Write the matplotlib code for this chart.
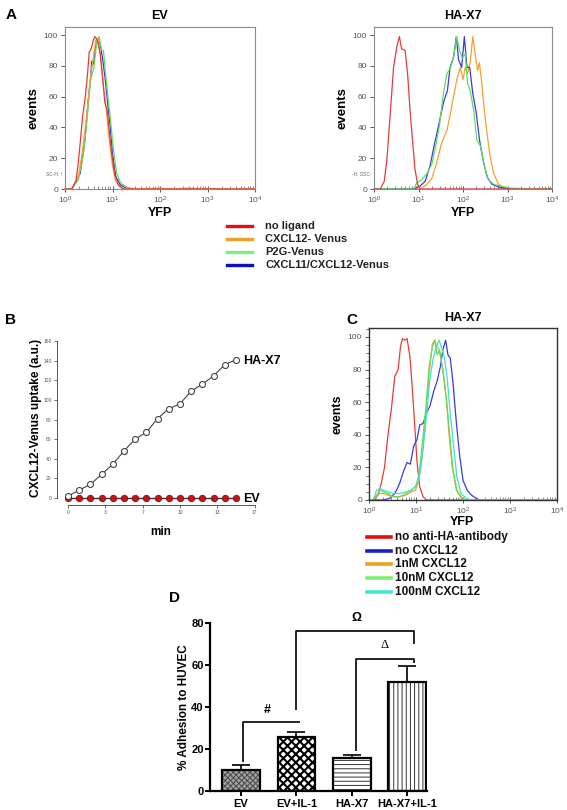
import matplotlib
matplotlib.use('Agg')
import matplotlib.pyplot as plt
from matplotlib.ticker import LogLocator, NullFormatter, FixedLocator, MultipleLocator
import numpy as np

plt.rcParams['font.family'] = ['Liberation Sans', 'DejaVu Sans']
plt.rcParams['mathtext.fontset'] = 'custom'
plt.rcParams['mathtext.rm'] = 'Liberation Sans'
plt.rcParams['mathtext.it'] = 'Liberation Sans:italic'
plt.rcParams['mathtext.bf'] = 'Liberation Sans:bold'
plt.rcParams['hatch.linewidth'] = 0.7

# ---------------- data ----------------
# Panel A, EV (x = log10 YFP, y = events)
a_ev_red_x = [0, 0.14, 0.23, 0.28, 0.32, 0.37, 0.42, 0.47, 0.51, 0.55, 0.60, 0.63, 0.68, 0.74, 0.79, 0.84, 0.89, 0.95, 1.00, 1.05, 1.12, 1.23, 4.0]
a_ev_red_y = [0, 0, 5, 17, 30, 47, 58, 73, 89, 91, 97, 99, 97, 88, 73, 56, 51, 32, 19, 9, 3, 0, 0]
a_ev_blue_x = [0, 0.14, 0.32, 0.42, 0.49, 0.54, 0.56, 0.60, 0.63, 0.68, 0.74, 0.79, 0.84, 0.89, 0.95, 1.00, 1.07, 1.16, 1.26, 1.44, 4.0]
a_ev_blue_y = [0, 0, 10, 32, 58, 72, 83, 81, 90, 97, 94, 85, 73, 58, 41, 23, 8, 3, 1, 0, 0]
a_ev_green_x = [0, 0.14, 0.28, 0.39, 0.47, 0.54, 0.61, 0.67, 0.72, 0.77, 0.81, 0.86, 0.91, 0.97, 1.03, 1.09, 1.17, 1.30, 1.50, 2.0, 2.3, 2.6, 3.0, 4.0]
a_ev_green_y = [0, 0, 6, 23, 47, 71, 79, 96, 99, 90, 90, 73, 58, 41, 23, 10, 4, 1, 0, 0.5, 0, 0.6, 0, 0]
a_ev_orange_x = [0, 0.14, 0.28, 0.37, 0.46, 0.53, 0.60, 0.65, 0.70, 0.75, 0.81, 0.86, 0.93, 1.00, 1.07, 1.16, 1.26, 4.0]
a_ev_orange_y = [0, 0, 8, 25, 49, 71, 86, 97, 98, 86, 66, 54, 32, 15, 5, 1, 0, 0]

# Panel A, HA-X7
a_x7_red_x = [0, 0.14, 0.23, 0.29, 0.36, 0.44, 0.51, 0.57, 0.62, 0.70, 0.76, 0.81, 0.87, 0.92, 0.98, 1.04, 4.0]
a_x7_red_y = [0, 0, 5, 19, 47, 79, 92, 99, 91, 90, 73, 51, 30, 13, 3, 0, 0]
a_x7_blue_x = [0, 0.89, 1.04, 1.15, 1.26, 1.35, 1.45, 1.56, 1.65, 1.71, 1.79, 1.85, 1.90, 1.97, 2.03, 2.09, 2.15, 2.22, 2.30, 2.37, 2.45, 2.54, 2.65, 2.84, 3.1, 4.0]
a_x7_blue_y = [0, 0, 2, 5, 15, 28, 41, 56, 64, 79, 86, 99, 84, 79, 99, 79, 79, 62, 49, 32, 19, 8, 3, 1, 0, 0]
a_x7_green_x = [0, 0.89, 0.96, 1.07, 1.19, 1.30, 1.40, 1.47, 1.56, 1.64, 1.71, 1.79, 1.86, 1.92, 1.99, 2.05, 2.10, 2.16, 2.24, 2.31, 2.39, 2.48, 2.57, 2.69, 2.84, 3.06, 3.44, 4.0]
a_x7_green_y = [0, 0, 4, 6, 10, 16, 30, 41, 62, 75, 78, 86, 99, 90, 85, 88, 69, 64, 51, 32, 28, 15, 6, 3, 2, 0.5, 0.3, 0]
a_x7_orange_x = [0, 1.04, 1.19, 1.30, 1.41, 1.52, 1.64, 1.73, 1.80, 1.86, 1.94, 2.00, 2.05, 2.10, 2.16, 2.22, 2.27, 2.33, 2.37, 2.42, 2.48, 2.54, 2.61, 2.69, 2.80, 2.99, 4.0]
a_x7_orange_y = [0, 0, 3, 7, 17, 30, 38, 51, 62, 71, 79, 71, 79, 75, 82, 99, 88, 77, 82, 69, 51, 36, 21, 10, 3, 0, 0]

a_legend = ['no ligand', 'CXCL12- Venus', 'P2G-Venus', 'CXCL11/CXCL12-Venus']

# Panel B
b_min = [0, 1, 2, 3, 4, 5, 6, 7, 8, 9, 10, 11, 12, 13, 14, 15]
b_hax7 = [2, 8, 14, 24, 34.5, 48, 60, 67, 81, 91, 96, 109, 116, 124.5, 136, 141]
b_ev = [0, 0, 0, 0, 0, 0, 0, 0, 0, 0, 0, 0, 0, 0, 0, 0]
b_xticks = [0, 10/3, 20/3, 10, 40/3, 50/3]
b_xticklabels = ['0', '3', '7', '10', '13', '17']

# Panel C
c_red_x = [0, 0.12, 0.19, 0.26, 0.33, 0.40, 0.48, 0.55, 0.62, 0.67, 0.71, 0.76, 0.81, 0.87, 0.92, 0.97, 1.02, 1.08, 1.15, 1.22, 4.0]
c_red_y = [0, 0, 3, 10, 20, 39, 57, 76, 80, 94, 99, 98, 99, 88, 69, 47, 24, 8, 2, 0, 0]
c_blue_x = [0, 0.30, 0.44, 0.55, 0.65, 0.74, 0.81, 0.88, 0.95, 1.02, 1.08, 1.15, 1.22, 1.30, 1.38, 1.45, 1.52, 1.57, 1.63, 1.68, 1.73, 1.79, 1.86, 1.93, 2.00, 2.09, 2.18, 2.28, 2.35, 4.0]
c_blue_y = [0, 0, 1, 4, 10, 18, 23, 22, 33, 37, 46, 47, 53, 58, 67, 73, 82, 92, 98, 89, 87, 71, 47, 27, 12, 6, 3, 1, 0, 0]
c_orange_x = [0, 0.09, 0.16, 0.23, 0.31, 0.40, 0.51, 0.65, 0.79, 0.90, 0.99, 1.06, 1.13, 1.21, 1.28, 1.35, 1.40, 1.45, 1.50, 1.57, 1.65, 1.70, 1.77, 1.86, 1.96, 2.07, 4.0]
c_orange_y = [0, 0, 2, 4, 4, 3, 2, 2, 3, 5, 6, 12, 27, 51, 78, 96, 98, 94, 92, 80, 61, 41, 20, 6, 1, 0, 0]
c_green_x = [0, 0.09, 0.16, 0.23, 0.31, 0.40, 0.51, 0.65, 0.79, 0.90, 0.99, 1.06, 1.13, 1.21, 1.28, 1.35, 1.40, 1.45, 1.50, 1.57, 1.65, 1.72, 1.79, 1.87, 1.99, 2.07, 4.0]
c_green_y = [0, 0, 3, 6, 5, 4, 2, 2, 4, 6, 8, 15, 33, 57, 82, 94, 98, 89, 92, 80, 61, 39, 18, 6, 1, 0, 0]
c_cyan_x = [0, 0.09, 0.16, 0.23, 0.31, 0.40, 0.51, 0.65, 0.79, 0.90, 1.01, 1.08, 1.15, 1.22, 1.29, 1.36, 1.43, 1.49, 1.55, 1.60, 1.66, 1.73, 1.80, 1.87, 1.96, 2.07, 2.2, 4.0]
c_cyan_y = [0, 0, 6, 7, 6, 5, 4, 4, 5, 6, 9, 16, 31, 51, 73, 86, 94, 98, 93, 88, 76, 53, 33, 14, 4, 1, 0, 0]
c_legend = ['no anti-HA-antibody', 'no CXCL12', '1nM CXCL12', '10nM CXCL12', '100nM CXCL12']

# Panel D
d_groups = ['EV', 'EV+IL-1', 'HA-X7', 'HA-X7+IL-1']
d_mean = [10.2, 25.7, 15.6, 51.9]
d_err = [2.3, 2.4, 1.4, 7.5]

# ---------------- figure ----------------
W, H = 567, 810
fig = plt.figure(figsize=(W / 100, H / 100), dpi=100)


def ax_px(l, t, r, b):
    return fig.add_axes([l / W, 1 - b / H, (r - l) / W, (b - t) / H])


def ftext(x, y, s, **kw):
    kw.setdefault('ha', 'center')
    kw.setdefault('va', 'center')
    return fig.text(x / W, 1 - y / H, s, **kw)


RED = '#e83a3a'
ORANGE = '#f5a030'
GREEN = '#5edc5e'
BLUE = '#3a3ae0'
CYAN = '#3ee0d0'

decade_labels = [r'$\mathregular{10^{%d}}$' % i for i in range(5)]


def flow_axes(ax, ymax, dark=False):
    ax.set_xscale('log')
    ax.set_xlim(1, 1e4)
    ax.set_ylim(0, ymax)
    sc = '#333333' if dark else '#8a8a8a'
    for s in ax.spines.values():
        s.set_color(sc)
        s.set_linewidth(1.0 if dark else 0.8)
    ax.xaxis.set_major_locator(FixedLocator([1, 10, 100, 1000, 10000]))
    ax.set_xticklabels(decade_labels)
    ax.xaxis.set_minor_locator(LogLocator(base=10, subs=np.arange(2, 10)))
    ax.xaxis.set_minor_formatter(NullFormatter())
    ax.yaxis.set_major_locator(FixedLocator([0, 20, 40, 60, 80, 100]))
    ax.tick_params(axis='both', which='major', labelsize=6, colors='#555555', length=3, width=0.7, pad=2)
    ax.tick_params(axis='x', which='major', direction='inout', length=4)
    ax.tick_params(axis='x', which='minor', direction='in', length=2, width=0.6, colors='#777777')
    if dark:
        ax.yaxis.set_minor_locator(MultipleLocator(5))
        ax.tick_params(axis='y', which='minor', length=2, width=0.6, colors='#555555')


def curve(ax, xs, ys, color, lw=0.9):
    ax.plot([10 ** v for v in xs], ys, color=color, lw=lw, clip_on=False)


# ----- Panel A left: EV -----
axA1 = ax_px(65, 27, 255, 189)
flow_axes(axA1, 105.2)
curve(axA1, a_ev_blue_x, a_ev_blue_y, BLUE)
curve(axA1, a_ev_green_x, a_ev_green_y, GREEN)
curve(axA1, a_ev_orange_x, a_ev_orange_y, ORANGE)
curve(axA1, a_ev_red_x, a_ev_red_y, RED)
axA1.set_title('EV', fontsize=9, fontweight='bold', pad=6)
axA1.set_xlabel('YFP', fontsize=9, fontweight='bold', labelpad=1)
axA1.set_ylabel('events', fontsize=9.5, fontweight='bold', labelpad=3)

# ----- Panel A right: HA-X7 -----
axA2 = ax_px(374, 27, 552, 189)
flow_axes(axA2, 105.2)
curve(axA2, a_x7_orange_x, a_x7_orange_y, ORANGE)
curve(axA2, a_x7_blue_x, a_x7_blue_y, BLUE)
curve(axA2, a_x7_green_x, a_x7_green_y, GREEN)
curve(axA2, a_x7_red_x, a_x7_red_y, RED)
axA2.set_title('HA-X7', fontsize=9, fontweight='bold', pad=6)
axA2.set_xlabel('YFP', fontsize=9, fontweight='bold', labelpad=1)
axA2.set_ylabel('events', fontsize=9.5, fontweight='bold', labelpad=3)

ftext(54, 174, 'SC-H, !', fontsize=3.5, color='#666666')
ftext(362, 174, '-H, SSC-', fontsize=3.5, color='#666666')

ftext(11, 15, 'A', fontsize=11, fontweight='bold')

# Legend A
a_leg_colors = ['#e01010', '#f0a020', '#7ef07e', '#1010c0']
a_leg_y = [226, 239, 252, 265]
for lab, col, yy in zip(a_legend, a_leg_colors, a_leg_y):
    fig.add_artist(plt.Line2D([227 / W, 252 / W], [1 - yy / H, 1 - yy / H], color=col, lw=2.4))
    ftext(265, yy, lab, fontsize=8, fontweight='bold', ha='left', color='#222222')

# ----- Panel B -----
axB = ax_px(68, 341, 254.7, 498)
axB.set_xlim(0, 50 / 3)
axB.set_ylim(0, 160)
for s in ['top', 'right']:
    axB.spines[s].set_visible(False)
axB.spines['left'].set_position(('outward', 8))
axB.spines['bottom'].set_position(('outward', 5))
axB.spines['left'].set_bounds(0, 160)
axB.spines['bottom'].set_bounds(0, 50 / 3)
for s in ['left', 'bottom']:
    axB.spines[s].set_color('#555555')
    axB.spines[s].set_linewidth(0.7)
axB.set_yticks([0, 20, 40, 60, 80, 100, 120, 140, 160])
axB.set_xticks(b_xticks)
axB.set_xticklabels(b_xticklabels)
axB.tick_params(labelsize=3.6, colors='#555555', length=2.2, width=0.6, pad=1.5)
axB.plot(b_min, b_ev, color='#303040', lw=1.0, marker='o', ms=4.6, mfc='#c41414',
         mec='#8a1010', mew=0.6, clip_on=False, zorder=3)
axB.plot(b_min, b_hax7, color='#444444', lw=0.8, marker='o', ms=4.3, mfc='white',
         mec='#444444', mew=0.8, clip_on=False, zorder=4)
ftext(243, 361, 'HA-X7', fontsize=9, fontweight='bold', ha='left')
ftext(243, 499, 'EV', fontsize=9, fontweight='bold', ha='left')
ftext(36, 418, 'CXCL12-Venus uptake (a.u.)', fontsize=8.6, fontweight='bold', rotation=90)
ftext(161, 532, 'min', fontsize=8.5, fontweight='bold')
ftext(10, 320, 'B', fontsize=11, fontweight='bold')

# ----- Panel C -----
axC = ax_px(369, 328, 557, 500)
flow_axes(axC, 105.5, dark=True)
curve(axC, c_red_x, c_red_y, RED)
curve(axC, c_blue_x, c_blue_y, BLUE)
curve(axC, c_orange_x, c_orange_y, ORANGE)
curve(axC, c_green_x, c_green_y, GREEN)
curve(axC, c_cyan_x, c_cyan_y, CYAN)
axC.set_title('HA-X7', fontsize=9, fontweight='bold', pad=5)
axC.set_ylabel('events', fontsize=9, fontweight='bold', labelpad=3)
ftext(462, 522, 'YFP', fontsize=9, fontweight='bold')
ftext(352, 320, 'C', fontsize=11, fontweight='bold')

c_leg_colors = ['#e01010', '#1a1ad0', '#f0a020', '#80ee70', '#40e8d0']
c_leg_y = [537, 551, 564, 578, 592]
for lab, col, yy in zip(c_legend, c_leg_colors, c_leg_y):
    fig.add_artist(plt.Line2D([367 / W, 391 / W], [1 - yy / H, 1 - yy / H], color=col, lw=2.6))
    ftext(395, yy, lab, fontsize=8.5, fontweight='bold', ha='left', color='#111111')

# ----- Panel D -----
axD = ax_px(210, 623, 427, 791)
axD.set_xlim(-0.56, 3.36)
axD.set_ylim(0, 80)
for s in ['top', 'right']:
    axD.spines[s].set_visible(False)
for s in ['left', 'bottom']:
    axD.spines[s].set_linewidth(1.6)
xs = np.arange(len(d_groups))
hatches = ['xxxxxx', 'xxxx', '----', '||||']
faces = ['#a0a0a0', 'white', 'white', 'white']
hcols = ['#4a4a4a', 'black', '#333333', '#333333']
hlws = [0.7, 1.5, 0.7, 0.7]
for i in range(len(d_groups)):
    with plt.rc_context({'hatch.linewidth': hlws[i]}):
        b = axD.bar(xs[i], d_mean[i], width=0.68, color=faces[i], edgecolor=hcols[i],
                    hatch=hatches[i], linewidth=0, zorder=2)
        for p in b.patches:
            if hasattr(p, 'set_hatch_linewidth'):
                p.set_hatch_linewidth(hlws[i])
    axD.bar(xs[i], d_mean[i], width=0.68, fill=False, edgecolor='black', linewidth=1.6, zorder=3)
axD.errorbar(xs, d_mean, yerr=[[0] * len(d_mean), d_err], fmt='none', ecolor='black',
             elinewidth=1.2, capsize=6.5, capthick=1.2, zorder=4)
axD.set_xticks(xs)
axD.set_xticklabels(d_groups, fontsize=8, fontweight='bold')
axD.set_yticks([0, 20, 40, 60, 80])
axD.set_yticklabels(['0', '20', '40', '60', '80'], fontsize=8, fontweight='bold')
axD.tick_params(width=1.4, length=3.5, pad=2)
axD.tick_params(axis='y', pad=1)
axD.set_ylabel('% Adhesion to HUVEC', fontsize=8.5, fontweight='bold', labelpad=1)

bk = dict(color='black', lw=1.2, clip_on=False, solid_capstyle='butt')
# '#' bracket
axD.plot([0.03, 0.03, 1.06], [14, 32.9, 32.9], **bk)
# Omega bracket
axD.plot([1.0, 1.0, 3.13, 3.13], [38.6, 76.2, 76.2, 70.2], **bk)
# Delta bracket
axD.plot([2.08, 2.08, 3.13, 3.13], [19.2, 62.7, 62.7, 61.0], **bk)
axD.text(0.47, 38.7, '#', fontsize=9, fontweight='bold', ha='center', va='center')
axD.text(2.09, 82.2, 'Ω', fontsize=9, fontweight='bold', ha='center', va='center', clip_on=False)
axD.text(2.6, 69.7, 'Δ', fontsize=9, family='Liberation Serif', ha='center', va='center')
ftext(174, 598, 'D', fontsize=11, fontweight='bold')

fig.savefig('out.png', dpi=100)
